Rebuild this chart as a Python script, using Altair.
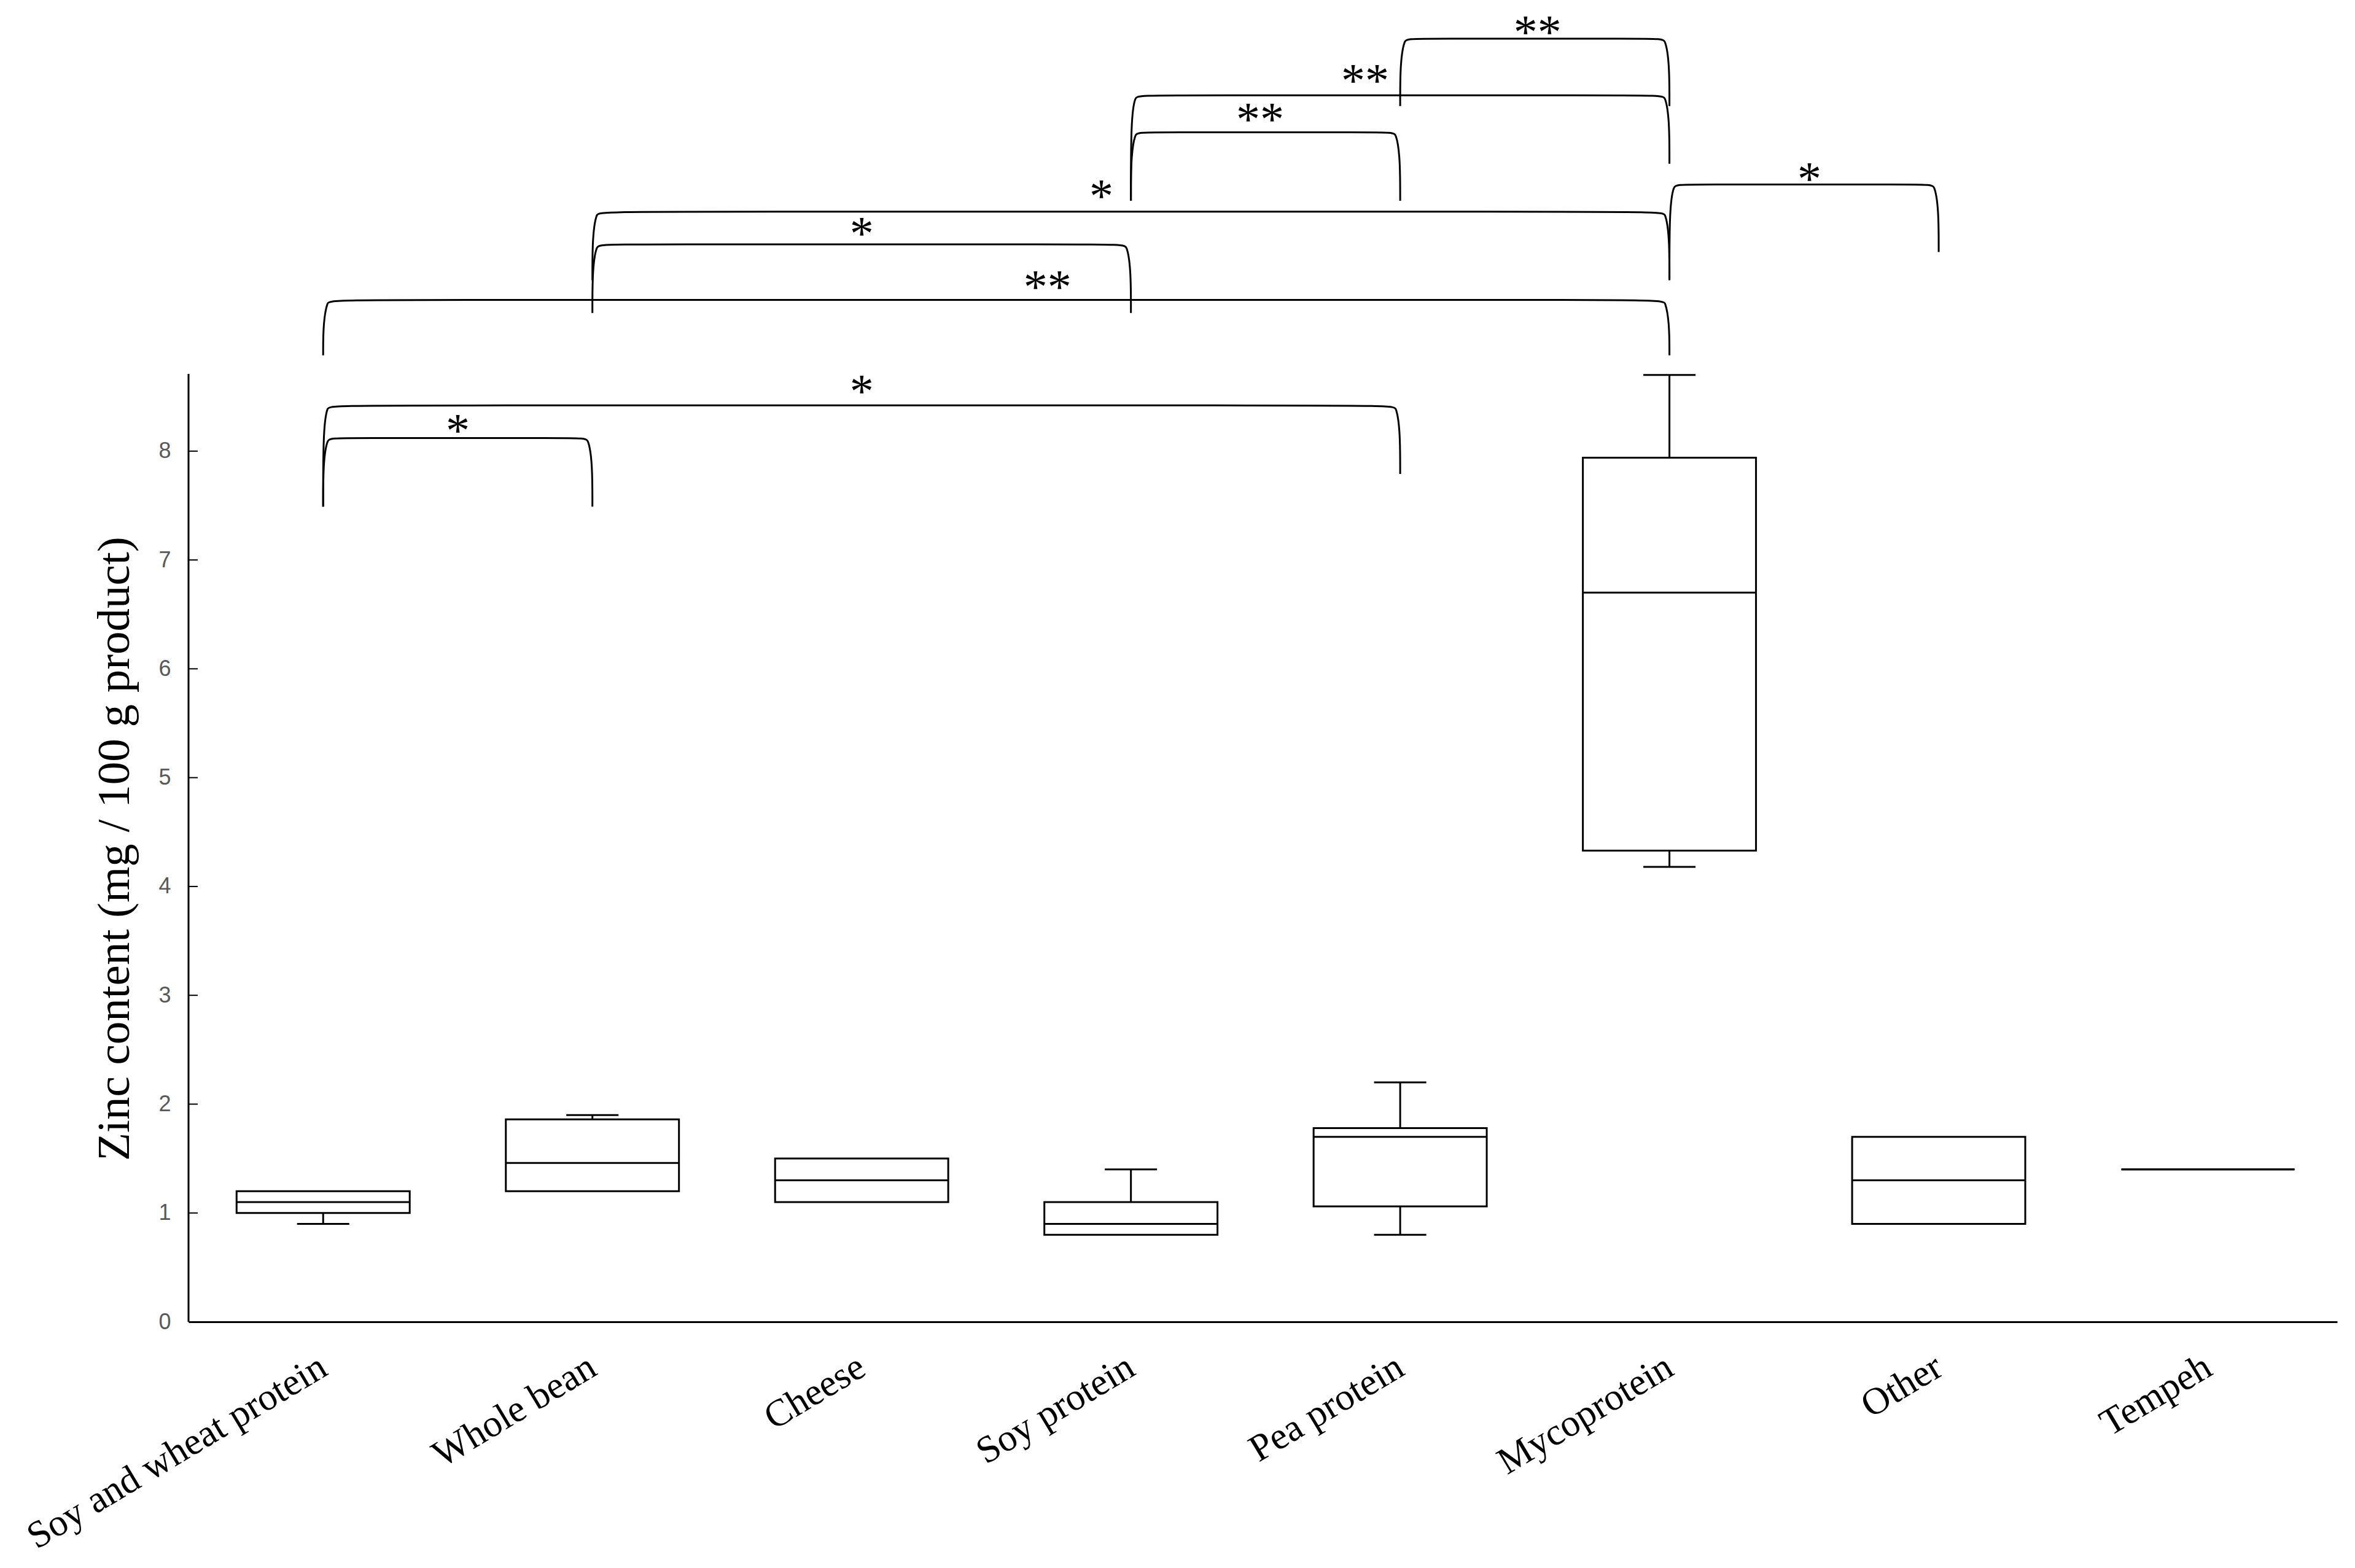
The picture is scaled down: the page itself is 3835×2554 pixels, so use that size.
import json
import altair as alt
import pandas as pd

# ---------------- data ----------------
categories = ["Soy and wheat protein", "Whole bean", "Cheese", "Soy protein",
              "Pea protein", "Mycoprotein", "Other", "Tempeh"]
whisker_low = [0.90, 1.20, 1.10, 0.80, 0.80, 4.18, 0.90, 1.40]
q1 = [1.00, 1.20, 1.10, 0.80, 1.06, 4.33, 0.90, 1.40]
median = [1.10, 1.46, 1.30, 0.90, 1.70, 6.70, 1.30, 1.40]
q3 = [1.20, 1.86, 1.50, 1.10, 1.78, 7.94, 1.70, 1.40]
whisker_high = [1.20, 1.90, 1.50, 1.40, 2.20, 8.70, 1.70, 1.40]

# significance brackets (category indices, heights in data units)
br_left = [0, 0, 0, 1, 1, 3, 3, 4, 5]
br_right = [1, 4, 5, 3, 5, 4, 5, 5, 6]
br_top = [8.12, 8.42, 9.39, 9.90, 10.20, 10.93, 11.27, 11.79, 10.45]
br_left_bottom = [7.49, 7.49, 8.88, 9.27, 9.57, 10.30, 10.30, 11.17, 9.58]
br_right_bottom = [7.49, 7.79, 8.88, 9.27, 9.57, 10.30, 10.64, 11.17, 9.83]
br_label = ["*", "*", "**", "*", "*", "**", "**", "**", "*"]
br_label_x = [1.00, 2.50, 3.19, 2.50, 3.39, 3.98, 4.37, 5.01, 6.02]
br_label_y = [8.25, 8.61, 9.57, 10.06, 10.40, 11.11, 11.46, 11.91, 10.56]

y_ticks = [0, 1, 2, 3, 4, 5, 6, 7, 8]
axis_top = [8.71]

# ---------------- styling ----------------
BOX_HALF = 0.3215
CAP_HALF = 0.097
CURVE_H = 0.22
CURVE_W = 0.016
SW = 3

df = pd.DataFrame({
    "cat": categories, "i": list(range(len(categories))),
    "wlo": whisker_low, "q1": q1, "med": median, "q3": q3, "whi": whisker_high,
})

x_scale = alt.Scale(domain=[0, 7.98], nice=False, zero=False)
y_scale = alt.Scale(domain=[0, 12.1], nice=False, zero=False)

label_expr = json.dumps(categories) + "[floor(datum.value)]"
X_AX = alt.Axis(
    values=[i + 0.5 for i in range(len(categories))], labelExpr=label_expr,
    title=None, grid=False, ticks=False, tickSize=0, domain=True,
    domainColor="black", domainWidth=SW, labelAngle=-31, labelAlign="right",
    labelBaseline="middle", labelPadding=68, labelFont="Liberation Serif",
    labelFontSize=62, labelColor="black", labelOverlap=False, labelBound=False,
    labelFlush=False, labelLimit=0,
)
Y_AX = alt.Axis(
    values=y_ticks, title="Zinc content (mg / 100 g product)", grid=False,
    ticks=False, tickSize=0, domain=False, labelPadding=29,
    labelFont="Liberation Sans", labelFontSize=36, labelColor="#595959",
    titleFont="Liberation Serif", titleFontSize=75, titleColor="black",
    titleFontWeight="normal", titleAngle=-90, titleX=-82, titleY=1374,
    titleAlign="center", titleBaseline="bottom", titleLimit=0,
)


def X(field):
    return alt.X(field, type="quantitative", scale=x_scale, axis=X_AX)


def Y(field):
    return alt.Y(field, type="quantitative", scale=y_scale, axis=Y_AX)


base = alt.Chart(df).transform_calculate(
    pos="datum.i + 0.5",
    bl=f"datum.i + 0.5 - {BOX_HALF}",
    brr=f"datum.i + 0.5 + {BOX_HALF}",
    cl=f"datum.i + 0.5 - {CAP_HALF}",
    cr=f"datum.i + 0.5 + {CAP_HALF}",
)

upper_whisker = base.transform_filter("datum.whi > datum.q3").mark_rule(
    color="black", strokeWidth=SW).encode(x=X("pos:Q"), y=Y("q3:Q"), y2="whi:Q")
lower_whisker = base.transform_filter("datum.wlo < datum.q1").mark_rule(
    color="black", strokeWidth=SW).encode(x=X("pos:Q"), y=Y("wlo:Q"), y2="q1:Q")
upper_cap = base.transform_filter("datum.whi > datum.q3").mark_rule(
    color="black", strokeWidth=SW).encode(x=X("cl:Q"), x2="cr:Q", y=Y("whi:Q"))
lower_cap = base.transform_filter("datum.wlo < datum.q1").mark_rule(
    color="black", strokeWidth=SW).encode(x=X("cl:Q"), x2="cr:Q", y=Y("wlo:Q"))
boxes = base.mark_rect(fill="white", stroke="black", strokeWidth=SW).encode(
    x=X("bl:Q"), x2="brr:Q", y=Y("q1:Q"), y2="q3:Q")
medians = base.mark_rule(color="black", strokeWidth=SW).encode(
    x=X("bl:Q"), x2="brr:Q", y=Y("med:Q"))

# bracket paths built from the bracket arrays
rows = []
for b in range(len(br_left)):
    xl = br_left[b] + 0.5
    xr = br_right[b] + 0.5
    yt = br_top[b]
    pts = [
        (xl, br_left_bottom[b]), (xl, yt - CURVE_H), (xl + CURVE_W, yt),
        (xl + 2 * CURVE_W, yt), (xr - 2 * CURVE_W, yt), (xr - CURVE_W, yt),
        (xr, yt - CURVE_H), (xr, br_right_bottom[b]),
    ]
    for k, (px, py) in enumerate(pts):
        rows.append({"bid": b, "k": k, "bx": px, "by": py})
br_df = pd.DataFrame(rows)

brackets = alt.Chart(br_df).mark_line(
    color="black", strokeWidth=SW, interpolate="basis").encode(
    x=X("bx:Q"), y=Y("by:Q"), detail="bid:N", order="k:Q")

lab_df = pd.DataFrame({"lx": br_label_x, "ly": br_label_y, "txt": br_label})
labels = alt.Chart(lab_df).mark_text(
    font="Liberation Serif", fontSize=78, color="black", align="center",
    baseline="alphabetic", dy=36).encode(x=X("lx:Q"), y=Y("ly:Q"), text="txt:N")

yline = alt.Chart(pd.DataFrame({"y0": [0.0], "y1": axis_top})).mark_rule(
    color="black", strokeWidth=SW).encode(
    x=alt.value(0), y=Y("y0:Q"), y2="y1:Q")

ticks = alt.Chart(pd.DataFrame({"t": y_ticks})).mark_rule(
    color="black", strokeWidth=2).encode(
    x=alt.value(0), x2=alt.value(15), y=Y("t:Q"))

chart = alt.layer(
    brackets, labels, upper_whisker, lower_whisker, upper_cap, lower_cap,
    boxes, medians, ticks, yline,
).properties(
    width=3499, height=2145,
    autosize=alt.AutoSizeParams(type="none"),
    padding={"left": 299, "top": 0, "right": 12, "bottom": 392},
    background="white",
).configure_view(stroke=None)

chart.save("out.html", embed_options={"renderer": "svg", "actions": False})
